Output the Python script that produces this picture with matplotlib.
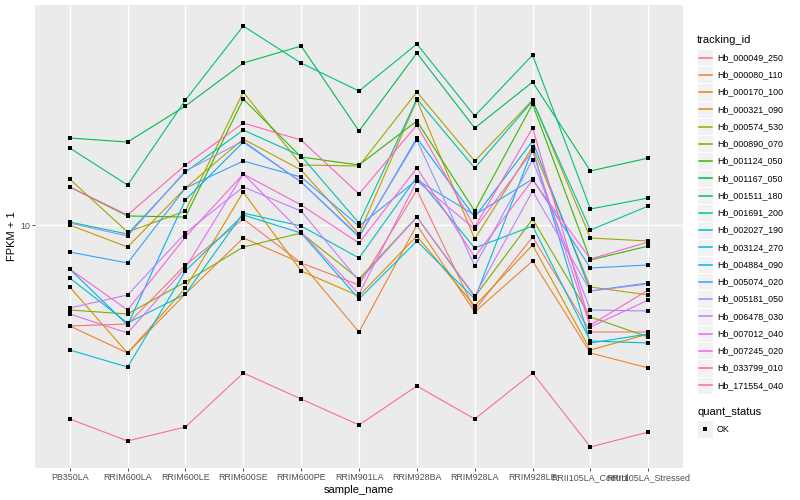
import numpy as np
import matplotlib
matplotlib.use('Agg')
import matplotlib.pyplot as plt
from matplotlib.patches import Rectangle
from matplotlib.ticker import NullLocator

plt.rcParams['font.family'] = ['Liberation Sans', 'DejaVu Sans']

# samples on the x axis
samples = ['PB350LA', 'RRIM600LA', 'RRIM600LE', 'RRIM600SE', 'RRIM600PE', 'RRIM901LA',
           'RRIM928BA', 'RRIM928LA', 'RRIM928LE', 'RRII105LA_Control', 'RRII105LA_Stressed']

genes = ['Hb_000049_250', 'Hb_000080_110', 'Hb_000170_100', 'Hb_000321_090', 'Hb_000574_530',
         'Hb_000890_070', 'Hb_001124_050', 'Hb_001167_050', 'Hb_001511_180', 'Hb_001691_200',
         'Hb_002027_190', 'Hb_003124_270', 'Hb_004884_090', 'Hb_005074_020', 'Hb_005181_050',
         'Hb_006478_030', 'Hb_007012_040', 'Hb_007245_020', 'Hb_033799_010', 'Hb_171554_040']

# FPKM + 1
hb_000049_250 = [4.606, 4.677, 7.357, 10.47, 7.471, 6.310, 13.08, 5.208, 9.120, 4.399, 4.399]
hb_000080_110 = [4.606, 3.744, 5.889, 9.050, 7.471, 4.399, 10.00, 5.129, 7.586, 3.744, 3.337]
hb_000170_100 = [6.214, 3.744, 6.166, 12.88, 7.026, 5.799, 9.190, 5.371, 8.577, 3.831, 4.332]
hb_000321_090 = [10.00, 8.446, 13.28, 19.35, 15.25, 9.332, 26.10, 8.981, 18.20, 6.214, 5.844]
hb_000574_530 = [14.23, 9.477, 11.13, 27.75, 15.85, 15.73, 27.75, 16.34, 26.10, 9.050, 8.844]
hb_000890_070 = [5.208, 5.051, 6.457, 8.446, 9.404, 6.607, 10.63, 5.755, 10.47, 4.935, 4.233]
hb_001124_050 = [13.39, 10.72, 10.63, 26.30, 16.85, 15.85, 22.22, 11.13, 25.31, 7.645, 8.511]
hb_001167_050 = [19.50, 18.91, 24.93, 34.67, 39.51, 20.58, 37.44, 21.05, 29.97, 15.14, 16.72]
hb_001511_180 = [18.06, 13.59, 26.10, 46.06, 34.67, 27.97, 40.12, 23.09, 36.87, 11.31, 12.30]
hb_001691_200 = [10.23, 9.332, 15.02, 20.73, 16.98, 10.15, 26.30, 15.49, 25.90, 9.623, 11.57]
hb_002027_190 = [6.658, 4.713, 5.889, 10.96, 9.923, 7.763, 14.45, 8.381, 9.923, 4.105, 4.043]
hb_003124_270 = [3.831, 3.362, 7.026, 10.80, 9.404, 5.667, 8.844, 5.667, 17.92, 4.043, 4.332]
hb_004884_090 = [7.135, 4.641, 12.12, 18.91, 13.91, 9.120, 19.50, 10.63, 19.05, 6.026, 6.408]
hb_005074_020 = [8.128, 7.471, 13.28, 16.34, 14.45, 9.923, 14.13, 10.80, 14.23, 7.189, 7.357]
hb_005181_050 = [10.15, 9.190, 15.14, 19.05, 13.91, 9.190, 19.20, 7.301, 16.47, 5.208, 5.168]
hb_006478_030 = [5.289, 5.844, 9.404, 13.39, 11.13, 6.507, 10.63, 5.799, 12.98, 6.026, 6.359]
hb_007012_040 = [5.051, 4.365, 7.189, 14.79, 9.477, 5.889, 14.02, 9.697, 17.65, 4.571, 5.624]
hb_007245_020 = [7.135, 5.208, 9.120, 14.79, 11.66, 8.709, 15.49, 7.823, 14.13, 7.704, 8.777]
hb_033799_010 = [13.39, 10.80, 15.85, 21.88, 19.20, 12.69, 21.55, 9.847, 21.05, 4.641, 6.072]
hb_171554_040 = [2.256, 1.906, 2.121, 3.211, 2.630, 2.154, 2.906, 2.256, 3.211, 1.820, 2.041]

series = [hb_000049_250, hb_000080_110, hb_000170_100, hb_000321_090, hb_000574_530,
          hb_000890_070, hb_001124_050, hb_001167_050, hb_001511_180, hb_001691_200,
          hb_002027_190, hb_003124_270, hb_004884_090, hb_005074_020, hb_005181_050,
          hb_006478_030, hb_007012_040, hb_007245_020, hb_033799_010, hb_171554_040]


def hue_color(h, c=100.0, l=65.0):
    # ggplot's default hue palette (polar Luv -> sRGB)
    hr = np.deg2rad(h)
    u, v = c * np.cos(hr), c * np.sin(hr)
    xn, yn, zn = 95.047, 100.0, 108.883
    un = 4 * xn / (xn + 15 * yn + 3 * zn)
    vn = 9 * yn / (xn + 15 * yn + 3 * zn)
    Y = yn * ((l + 16) / 116) ** 3
    up = u / (13 * l) + un
    vp = v / (13 * l) + vn
    X = Y * 9 * up / (4 * vp)
    Z = Y * (12 - 3 * up - 20 * vp) / (4 * vp)
    m = np.array([[3.2404542, -1.5371385, -0.4985314],
                  [-0.9692660, 1.8760108, 0.0415560],
                  [0.0556434, -0.2040259, 1.0572252]])
    rgb = m @ (np.array([X, Y, Z]) / 100)
    rgb = np.clip(rgb, 0, None)
    rgb = np.where(rgb <= 0.0031308, 12.92 * rgb, 1.055 * rgb ** (1 / 2.4) - 0.055)
    return tuple(float(c_) for c_ in np.clip(rgb, 0, 1))


n = len(genes)
colors = [hue_color(15 + 360 * i / n) for i in range(n)]

fig = plt.figure(figsize=(8, 5), dpi=100)
ax = fig.add_axes([35 / 800, 32 / 500, 648 / 800, 463 / 500])
ax.set_facecolor('#EBEBEB')

x = np.arange(len(samples))
for vals, col in zip(series, colors):
    ax.plot(x, vals, color=col, lw=0.8, zorder=2)
for vals in series:
    ax.scatter(x, vals, marker='s', s=6, color='black', linewidths=0, zorder=3)

ax.set_yscale('log')
allv = np.log10(np.concatenate([np.array(s) for s in series]))
lo, hi = allv.min(), allv.max()
pad = 0.05 * (hi - lo)
ax.set_ylim(10 ** (lo - pad), 10 ** (hi + pad))
ax.set_xlim(-0.6, len(samples) - 0.4)

ax.set_xticks(x)
ax.set_xticklabels(samples)
ax.set_yticks([10])
ax.set_yticklabels(['10'])
ax.yaxis.set_minor_locator(NullLocator())
ax.grid(True, color='white', lw=1.0)
ax.set_axisbelow(True)
for sp in ax.spines.values():
    sp.set_visible(False)
ax.tick_params(length=2, width=0.6, color='#333333', labelcolor='#4D4D4D',
               labelsize=6.4, pad=1.5)
ax.set_xlabel('sample_name', fontsize=8, labelpad=2)
ax.set_ylabel('FPKM + 1', fontsize=8, labelpad=2)

# legend drawn by hand, in pixel coordinates
lax = fig.add_axes([0, 0, 1, 1])
lax.set_xlim(0, 800)
lax.set_ylim(500, 0)
lax.axis('off')
lax.text(697, 40, 'tracking_id', fontsize=8, va='center', ha='left')
for i, (g, col) in enumerate(zip(genes, colors)):
    yc = 57.5 + 17.25 * i
    lax.add_patch(Rectangle((697, yc - 8.6), 16, 17.2, facecolor='#F2F2F2',
                            edgecolor='white', lw=0.8, zorder=1))
    lax.plot([698.5, 711.5], [yc, yc], color=col, lw=1.1, zorder=3)
    lax.text(717, yc, g, fontsize=6.4, va='center', ha='left')
lax.text(697, 412, 'quant_status', fontsize=8, va='center', ha='left')
lax.add_patch(Rectangle((697, 429 - 8.6), 16, 17.2, facecolor='#F2F2F2',
                        edgecolor='white', lw=0.8, zorder=1))
lax.scatter([705], [429], marker='s', s=6, color='black', linewidths=0, zorder=3)
lax.text(717, 429, 'OK', fontsize=6.4, va='center', ha='left')

fig.savefig('out.png', dpi=100)
